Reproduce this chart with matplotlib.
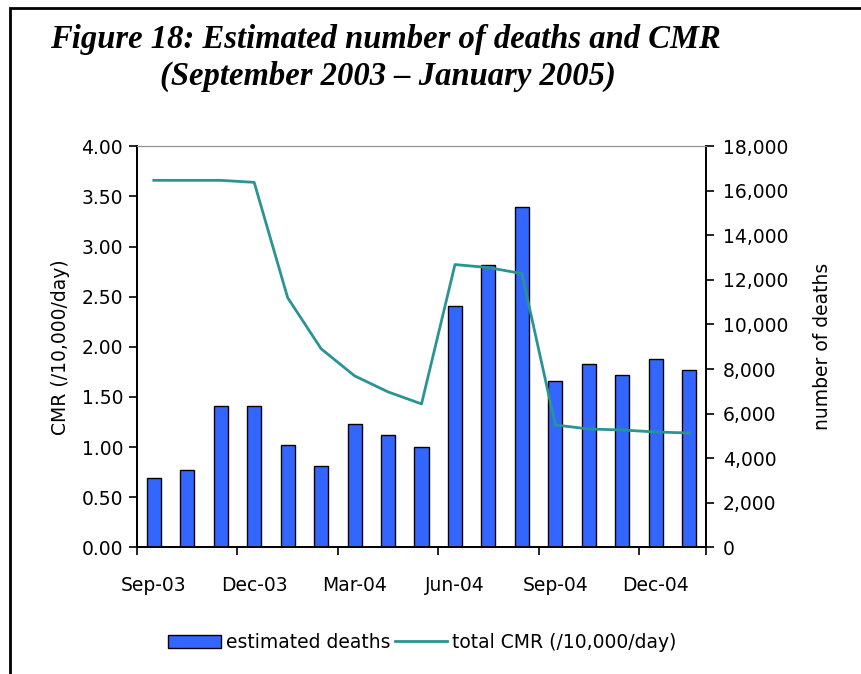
import matplotlib
matplotlib.use("Agg")
import matplotlib.pyplot as plt
from matplotlib.patches import Rectangle
from matplotlib.ticker import FuncFormatter, FixedLocator

months = ["Sep-03", "Oct-03", "Nov-03", "Dec-03", "Jan-04", "Feb-04", "Mar-04",
          "Apr-04", "May-04", "Jun-04", "Jul-04", "Aug-04", "Sep-04", "Oct-04",
          "Nov-04", "Dec-04", "Jan-05"]
deaths = [3100, 3450, 6320, 6320, 4600, 3660, 5530, 5030, 4510,
          10810, 12690, 15260, 7450, 8240, 7740, 8460, 7960]
cmr = [3.66, 3.66, 3.66, 3.64, 2.49, 1.98, 1.71, 1.55, 1.43,
       2.82, 2.79, 2.73, 1.22, 1.18, 1.17, 1.15, 1.14]

plt.rcParams["font.family"] = ["DejaVu Sans"]

fig = plt.figure(figsize=(8.62, 6.74), dpi=100)
ax = fig.add_axes([0.159, 0.188, 0.66, 0.595])
ax2 = ax.twinx()

x = list(range(len(months)))
bars = ax2.bar(x, deaths, width=0.42, color="#3366ff", edgecolor="black",
               linewidth=1.0, label="estimated deaths")
line, = ax.plot(x, cmr, color="#2a9494", linewidth=2, label="total CMR (/10,000/day)")

ax.set_zorder(ax2.get_zorder() + 1)
ax.patch.set_visible(False)

ax.set_xlim(-0.5, len(months) - 0.5)
ax.set_ylim(0, 4)
ax2.set_ylim(0, 18000)
ax.set_yticks([i * 0.5 for i in range(9)])
ax.yaxis.set_major_formatter(FuncFormatter(lambda v, p: f"{v:.2f}"))
ax2.set_yticks(range(0, 18001, 2000))
ax2.yaxis.set_major_formatter(FuncFormatter(lambda v, p: f"{int(v):,}"))

# labels every third month, tick marks on the category boundaries
ax.xaxis.set_major_locator(FixedLocator(x[::3]))
ax.set_xticklabels(months[::3])
ax.xaxis.set_minor_locator(FixedLocator([i - 0.5 for i in x[::3]] + [len(months) - 0.5]))
ax.tick_params(axis="x", which="major", length=0, pad=21, labelsize=13.5)
ax.tick_params(axis="x", which="minor", length=6, width=1.2, direction="out")
ax.tick_params(axis="y", length=6, width=1.2, direction="out", labelsize=13.5, pad=4)
ax2.tick_params(axis="y", length=6, width=1.2, direction="out", labelsize=13.5, pad=6)

for a in (ax, ax2):
    a.spines["top"].set_color("#909090")
    a.spines["left"].set_linewidth(1.3)
    a.spines["right"].set_linewidth(1.3)
    a.spines["bottom"].set_linewidth(1.3)

ax.set_ylabel("CMR (/10,000/day)", fontsize=13.5, labelpad=8)
ax2.set_ylabel("number of deaths", fontsize=13.5, labelpad=18)

fig.legend(handles=[bars, line], loc="center", bbox_to_anchor=(0.49, 0.047),
           ncol=2, frameon=False, fontsize=13.5, handlelength=2.8,
           handletextpad=0.25, columnspacing=0.25)

fig.text(0.058, 0.942, "Figure 18: Estimated number of deaths and CMR",
         family="Liberation Serif", fontsize=23.5, fontweight="bold", style="italic",
         va="center")
fig.text(0.186, 0.886, "(September 2003 \u2013 January 2005)",
         family="Liberation Serif", fontsize=23.5, fontweight="bold", style="italic",
         va="center")

# outer frame of the report figure
fig.add_artist(Rectangle((0.012, -0.02), 1.1, 1.008, transform=fig.transFigure,
                         fill=False, edgecolor="black", linewidth=2))

fig.savefig("out.png", dpi=100)
